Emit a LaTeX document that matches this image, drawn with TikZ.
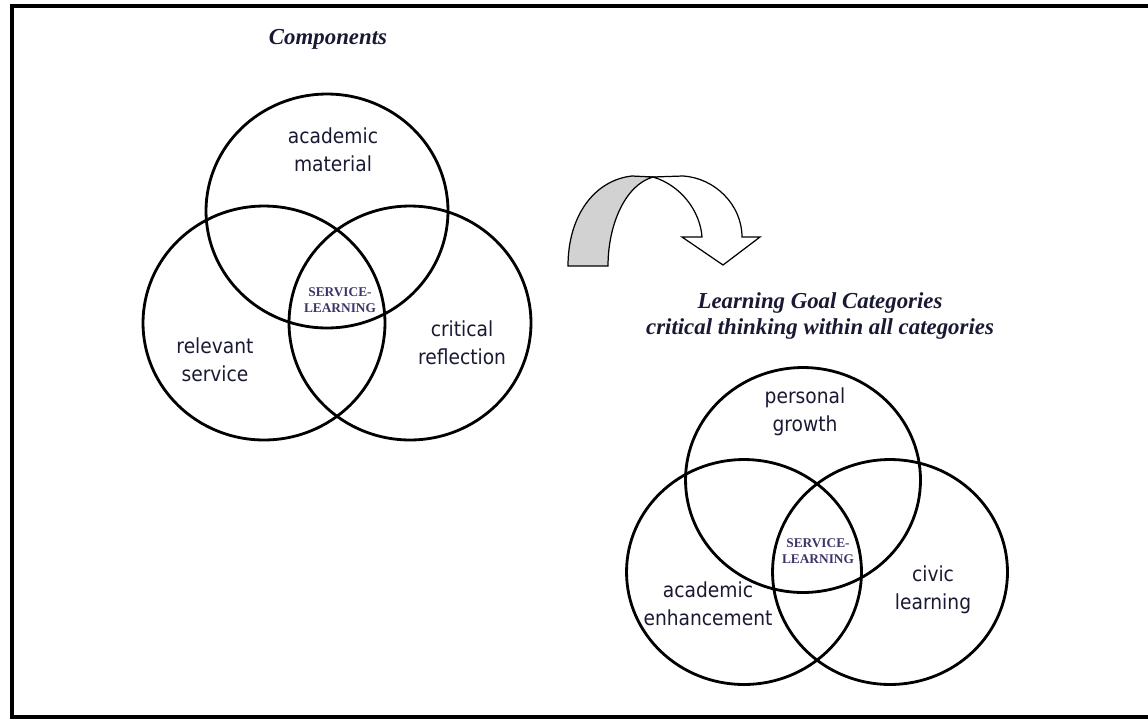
\documentclass[tikz,border=0pt]{standalone}
\usepackage{fontspec}
\setmainfont{Liberation Serif}
\newfontfamily\labelfont[FakeStretch=0.9]{DejaVu Sans}
\usetikzlibrary{shapes,arrows}
\definecolor{labelink}{rgb}{0.1,0.1,0.2}
\definecolor{coreink}{rgb}{0.25,0.2,0.42}

\begin{document}
\begin{tikzpicture}[x=0.02cm, y=-0.02cm]
    % Define styles
    \tikzstyle{ring} = [ellipse, draw, line width=1.6pt, inner sep=0pt, minimum width=4.84cm, minimum height=4.68cm]
    \tikzstyle{small ring} = [ring, minimum width=4.7cm, minimum height=4.5cm]
    \tikzstyle{label} = [text=labelink, align=center, font=\labelfont\fontsize{11.8}{16}\selectfont]
    \tikzstyle{core} = [text=coreink, align=center, font=\fontsize{7.6}{9.5}\selectfont\bfseries]
    \tikzstyle{title} = [text=labelink, align=center, font=\fontsize{13}{14.7}\selectfont\bfseries\itshape]

    \useasboundingbox (0,0) rectangle (1148,721);
    \draw [line width=2.2pt] (1160,6) -- (12,6) -- (12,717) -- (1160,717);

    % Components
    \node [title] (components) at (328,39) {Components};
    \node [ring] (academic ring) at (327,211) {};
    \node [ring] (service ring) at (264,323) {};
    \node [ring] (reflection ring) at (410,323) {};
    \node [label] (academic material) at (333,150) {academic\\material};
    \node [label] (relevant service) at (215,360) {relevant\\service};
    \node [label] (critical reflection) at (462,343) {critical\\reflection};
    \node [core] (left core) at (340,300) {SERVICE-\\LEARNING};

    % Curved arrow
    \filldraw [fill=gray!35, line width=0.7pt] (568,266) .. controls (568,215) and (595,180) .. (632,176)
        -- (653,177) .. controls (625,185) and (608,225) .. (608,266) -- cycle;
    \filldraw [fill=white, line width=0.7pt] (653,177) -- (683,176) .. controls (715,178) and (742,205) .. (742,237)
        -- (760,237) -- (723,265) -- (682,237) -- (702,237) .. controls (700,210) and (680,185) .. (653,177) -- cycle;

    % Learning goal categories
    \node [title] (goal categories) at (820,316) {Learning Goal Categories\\critical thinking within all categories};
    \node [small ring] (growth ring) at (803,480) {};
    \node [small ring] (enhancement ring) at (744,572) {};
    \node [small ring] (civic ring) at (890,572) {};
    \node [label] (personal growth) at (805,412) {personal\\growth};
    \node [label] (academic enhancement) at (708,604) {academic\\enhancement};
    \node [label] (civic learning) at (933,590) {civic\\learning};
    \node [core] (right core) at (818,551) {SERVICE-\\LEARNING};
\end{tikzpicture}
\end{document}
